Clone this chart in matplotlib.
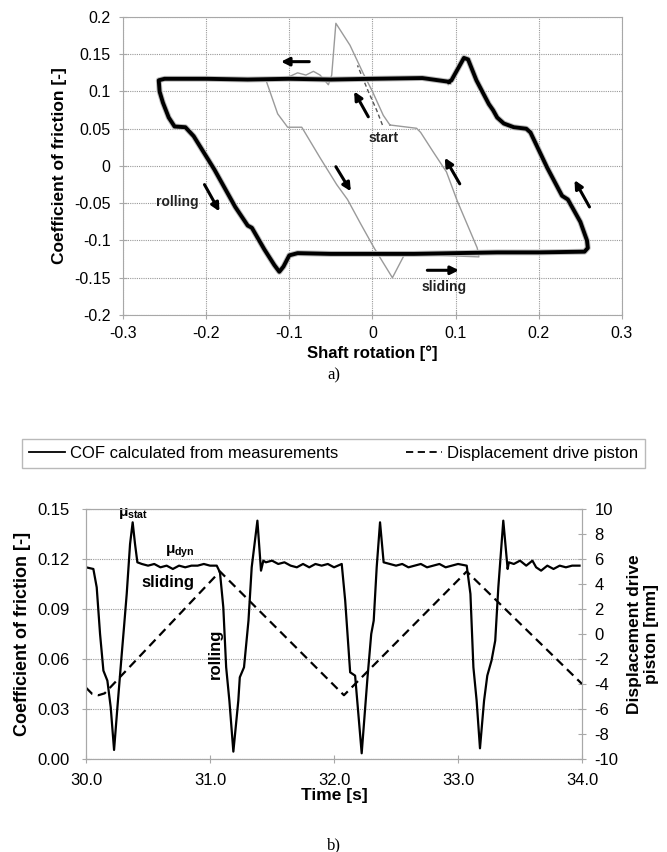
import numpy as np
import matplotlib
matplotlib.use('Agg')
import matplotlib.pyplot as plt
from matplotlib.lines import Line2D

plt.rcParams['font.family'] = ['Liberation Sans', 'DejaVu Sans']
plt.rcParams['axes.unicode_minus'] = False
plt.rcParams['mathtext.fontset'] = 'custom'
plt.rcParams['mathtext.rm'] = 'Liberation Sans:bold'
plt.rcParams['mathtext.it'] = 'Liberation Sans:bold'
plt.rcParams['mathtext.bf'] = 'Liberation Sans:bold'

# --- a) hysteresis loop, shaft rotation vs COF ---
loop_rot = [0.092, 0.06, 0.0, -0.05, -0.1, -0.15, -0.2, -0.25, -0.257, -0.256,
            -0.252, -0.245, -0.238, -0.225, -0.215, -0.19, -0.165, -0.15, -0.145,
            -0.13, -0.118, -0.112, -0.107, -0.1, -0.09, -0.05, 0.0, 0.05, 0.1,
            0.15, 0.2, 0.255, 0.259, 0.258, 0.25, 0.235, 0.228, 0.21, 0.19,
            0.185, 0.17, 0.158, 0.15, 0.145, 0.14, 0.125, 0.115, 0.11, 0.1,
            0.095, 0.092]
loop_cof = [0.113, 0.118, 0.117, 0.116, 0.117, 0.116, 0.117, 0.117, 0.115, 0.1,
            0.085, 0.065, 0.053, 0.052, 0.04, -0.005, -0.055, -0.08, -0.083,
            -0.112, -0.133, -0.142, -0.135, -0.12, -0.117, -0.118, -0.118,
            -0.118, -0.117, -0.116, -0.116, -0.115, -0.11, -0.1, -0.075, -0.045,
            -0.04, -0.002, 0.045, 0.05, 0.052, 0.057, 0.065, 0.075, 0.083,
            0.115, 0.143, 0.145, 0.125, 0.115, 0.113]

# first cycle (thin grey)
first_rot = [0.021, 0.013, 0.0, -0.011, -0.027, -0.044, -0.049, -0.053, -0.063,
             -0.071, -0.08, -0.09, -0.1, -0.115, -0.128, -0.114, -0.102, -0.085,
             -0.063, -0.043, -0.03, -0.014, 0.002, 0.024, 0.038, 0.08, 0.128,
             0.126, 0.102, 0.089, 0.073, 0.058, 0.053, 0.021]
first_cof = [0.055, 0.068, 0.1, 0.124, 0.162, 0.1915, 0.122, 0.109, 0.122,
             0.127, 0.122, 0.125, 0.12, 0.118, 0.115, 0.07, 0.052, 0.052,
             0.011, -0.025, -0.045, -0.078, -0.11, -0.15, -0.12, -0.12, -0.122,
             -0.11, -0.047, -0.008, 0.019, 0.045, 0.0506, 0.055]
start_rot = [0.012, 0.005, -0.005, -0.018]
start_cof = [0.055, 0.075, 0.1, 0.135]

# --- b) time signals ---
t_cof = [30.0, 30.059, 30.086, 30.113, 30.14, 30.172, 30.199, 30.226, 30.253,
         30.288, 30.306, 30.328, 30.355, 30.376, 30.395, 30.414,
         30.45, 30.5, 30.55, 30.6, 30.65, 30.7, 30.75, 30.8, 30.85, 30.9, 30.95, 31.0,
         31.054, 31.08, 31.107, 31.13, 31.156, 31.188,
         31.228, 31.24, 31.274, 31.31, 31.336, 31.382, 31.411, 31.43,
         31.45, 31.5, 31.55, 31.6, 31.65, 31.7, 31.75, 31.8, 31.85, 31.9, 31.95, 32.0,
         32.062, 32.09, 32.13, 32.17, 32.223,
         32.27, 32.30, 32.32, 32.344, 32.371, 32.40,
         32.45, 32.5, 32.55, 32.6, 32.65, 32.7, 32.75, 32.8, 32.85, 32.9, 32.95, 33.0,
         33.07, 33.10, 33.124, 33.15, 33.177, 33.21, 33.236, 33.27,
         33.30, 33.325, 33.365, 33.40, 33.41,
         33.45, 33.5, 33.55, 33.6, 33.63, 33.67, 33.72, 33.77, 33.82, 33.87, 33.92, 33.98]
cof = [0.115, 0.114, 0.103, 0.075, 0.053, 0.047, 0.031, 0.0054, 0.031,
       0.063, 0.079, 0.099, 0.129, 0.142, 0.129, 0.118,
       0.117, 0.116, 0.117, 0.115, 0.116, 0.114, 0.116, 0.115, 0.116, 0.116, 0.117, 0.116,
       0.116, 0.112, 0.091, 0.055, 0.035, 0.0044,
       0.035, 0.049, 0.055, 0.083, 0.115, 0.143, 0.113, 0.119,
       0.118, 0.119, 0.117, 0.118, 0.116, 0.115, 0.117, 0.115, 0.117, 0.116, 0.117, 0.115,
       0.117, 0.095, 0.052, 0.050, 0.0034,
       0.049, 0.075, 0.083, 0.115, 0.142, 0.118,
       0.117, 0.116, 0.117, 0.115, 0.116, 0.117, 0.115, 0.116, 0.117, 0.115, 0.116, 0.117,
       0.116, 0.099, 0.055, 0.035, 0.0064, 0.035, 0.050, 0.059,
       0.071, 0.103, 0.143, 0.114, 0.118,
       0.117, 0.119, 0.116, 0.119, 0.115, 0.113, 0.116, 0.114, 0.116, 0.115, 0.116, 0.116]

t_disp = [30.0, 30.05, 30.1, 30.15, 31.08, 32.08, 33.07, 34.0]
disp = [-4.3, -4.8, -4.9, -4.75, 5.0, -4.9, 5.0, -4.0]

fig = plt.figure(figsize=(6.67, 8.52), dpi=100)
grey = '#a8a8a8'

ax1 = fig.add_axes([0.1844, 0.6303, 0.748, 0.3498])
ax1.plot(first_rot, first_cof, color='#9a9a9a', lw=1.0)
ax1.plot(start_rot, start_cof, color='#555555', lw=1.0, ls=(0, (3, 2)))
ax1.plot(loop_rot, loop_cof, color='#bbbbbb', lw=4.2, solid_joinstyle='round')
ax1.plot(loop_rot, loop_cof, color='black', lw=2.8, solid_joinstyle='round')
ax1.set_xlim(-0.3, 0.3)
ax1.set_ylim(-0.2, 0.2)
ax1.set_xticks([-0.3, -0.2, -0.1, 0, 0.1, 0.2, 0.3])
ax1.set_xticklabels(['-0.3', '-0.2', '-0.1', '0', '0.1', '0.2', '0.3'])
ax1.set_yticks([-0.2, -0.15, -0.1, -0.05, 0, 0.05, 0.1, 0.15, 0.2])
ax1.set_yticklabels(['-0.2', '-0.15', '-0.1', '-0.05', '0', '0.05', '0.1', '0.15', '0.2'])
ax1.grid(True, color='#999999', ls=(0, (1, 1)), lw=0.8)
for s in ax1.spines.values():
    s.set_color(grey)
ax1.tick_params(direction='inout', length=6, color=grey, labelsize=11.5)
ax1.tick_params(axis='x', pad=5)
ax1.tick_params(axis='y', pad=6)
ax1.set_xlabel('Shaft rotation [°]', fontsize=12, fontweight='bold', labelpad=3)
ax1.set_ylabel('Coefficient of friction [-]', fontsize=12.5, fontweight='bold', labelpad=5)

arr = dict(arrowstyle='-|>', color='black', lw=2.2, mutation_scale=12, shrinkA=0, shrinkB=0)
arrows = [((-0.076, 0.140), (-0.110, 0.140)),
          ((-0.202, -0.025), (-0.184, -0.061)),
          ((-0.044, -0.001), (-0.026, -0.034)),
          ((-0.005, 0.066), (-0.022, 0.100)),
          ((0.105, -0.024), (0.087, 0.011)),
          ((0.261, -0.055), (0.243, -0.019)),
          ((0.066, -0.140), (0.104, -0.140))]
for a, b in arrows:
    ax1.annotate('', xy=b, xytext=a, arrowprops=arr)
ax1.text(-0.235, -0.048, 'rolling', fontsize=10, fontweight='bold', ha='center', va='center', color='#222222')
ax1.text(0.014, 0.038, 'start', fontsize=10, fontweight='bold', ha='center', va='center', color='#222222')
ax1.text(0.086, -0.162, 'sliding', fontsize=10, fontweight='bold', ha='center', va='center', color='#222222')

fig.text(0.5, 1 - 375 / 852, 'a)', family='Liberation Serif', fontsize=12, ha='center', va='center')

ax2 = fig.add_axes([0.129, 0.1092, 0.7436, 0.2934])
ax2.plot(t_cof, cof, color='black', lw=1.6)
ax2.set_xlim(30, 34)
ax2.set_ylim(0, 0.15)
ax2.set_xticks([30, 31, 32, 33, 34])
ax2.set_xticklabels(['30.0', '31.0', '32.0', '33.0', '34.0'])
ax2.set_yticks([0, 0.03, 0.06, 0.09, 0.12, 0.15])
ax2.set_yticklabels(['0.00', '0.03', '0.06', '0.09', '0.12', '0.15'])
ax2.yaxis.grid(True, color='#999999', ls=(0, (1, 1)), lw=0.8)
for s in ax2.spines.values():
    s.set_color(grey)
ax2.tick_params(direction='inout', length=6, color=grey, labelsize=12)
ax2.tick_params(axis='x', pad=7)
ax2.tick_params(axis='y', pad=9)
ax2.set_xlabel('Time [s]', fontsize=12.5, fontweight='bold', labelpad=0)
ax2.set_ylabel('Coefficient of friction [-]', fontsize=13, fontweight='bold', labelpad=4)

ax3 = ax2.twinx()
ax3.plot(t_disp, disp, color='black', lw=1.6, ls=(0, (4, 2.5)))
ax3.set_ylim(-10, 10)
ax3.set_yticks(range(-10, 11, 2))
for s in ax3.spines.values():
    s.set_color(grey)
ax3.tick_params(direction='inout', length=6, color=grey, labelsize=12, pad=6)
ax3.set_ylabel('Displacement drive\npiston [mm]', fontsize=12.5, fontweight='bold', labelpad=6)

ax2.text(30.38, 0.147, r'$\mu_{stat}$', fontsize=11, ha='center', va='center')
ax2.text(30.76, 0.124, r'$\mu_{dyn}$', fontsize=11, ha='center', va='center')
ax2.text(30.66, 0.106, 'sliding', fontsize=12, fontweight='bold', ha='center', va='center')
ax2.text(31.04, 0.063, 'rolling', fontsize=12, fontweight='bold', ha='center', va='center', rotation=90)

handles = [Line2D([], [], color='black', lw=1.3),
           Line2D([], [], color='black', lw=1.3, ls=(0, (4, 2.5)))]
fig.legend(handles, ['COF calculated from measurements', 'Displacement drive piston'],
           loc='center', bbox_to_anchor=(0.033, 0.4437, 0.934, 0.048),
           mode='expand', ncol=2, fontsize=12, frameon=True, fancybox=False,
           edgecolor=grey, handlelength=2.2, handletextpad=0.3, borderaxespad=0)

fig.text(0.5, 1 - 845 / 852, 'b)', family='Liberation Serif', fontsize=12, ha='center', va='center')

fig.savefig('out.png', dpi=100)
